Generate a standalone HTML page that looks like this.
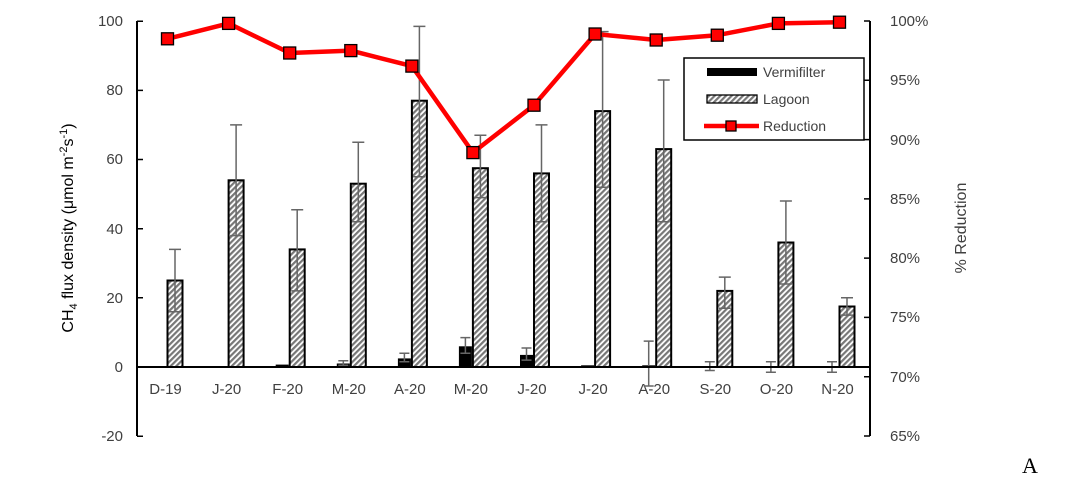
<!DOCTYPE html>
<html><head><meta charset="utf-8"><style>
html,body{margin:0;padding:0;background:#fff;}
svg{display:block;font-family:"Liberation Sans",sans-serif;}
.e{stroke:#666;stroke-width:1.5;fill:none}
.lg{fill:url(#h);stroke:#000;stroke-width:2}
.t{font-size:15px;fill:#404040}
</style></head><body>
<svg width="1080" height="495" viewBox="0 0 1080 495" xmlns="http://www.w3.org/2000/svg">
<defs>
<pattern id="h" patternUnits="userSpaceOnUse" width="4" height="4" patternTransform="rotate(45)">
<rect width="4" height="4" fill="#fff"/><rect width="2.2" height="4" fill="#777"/>
</pattern>
</defs>

<g transform="translate(167.5,0)">
<rect x="-14" y="366" width="13" height="1" fill="#000"/>
<rect class="lg" x="0" y="280.5" width="15" height="86.5"/>
<path class="e" d="M7.5 249.4V311.7M1.5 249.4H13.5M1.5 311.7H13.5"/>
<text class="t" x="-2" y="394" text-anchor="middle">D-19</text></g>
<g transform="translate(228.6,0)">
<rect x="-14" y="366.3" width="13" height="0.7" fill="#000"/>
<rect class="lg" x="0" y="180.3" width="15" height="186.7"/>
<path class="e" d="M7.5 124.9V235.6M1.5 124.9H13.5M1.5 235.6H13.5"/>
<text class="t" x="-2" y="394" text-anchor="middle">J-20</text></g>
<g transform="translate(289.7,0)">
<rect x="-14" y="364.6" width="13" height="2.4" fill="#000"/>
<rect class="lg" x="0" y="249.4" width="15" height="117.6"/>
<path class="e" d="M7.5 209.7V290.9M1.5 209.7H13.5M1.5 290.9H13.5"/>
<text class="t" x="-2" y="394" text-anchor="middle">F-20</text></g>
<g transform="translate(350.8,0)">
<rect x="-14" y="363.5" width="13" height="3.5" fill="#000"/>
<path class="e" d="M-7.5 360.8V365.3M-12.5 360.8H-2.5M-12.5 365.3H-2.5"/>
<rect class="lg" x="0" y="183.7" width="15" height="183.3"/>
<path class="e" d="M7.5 142.2V221.8M1.5 142.2H13.5M1.5 221.8H13.5"/>
<text class="t" x="-2" y="394" text-anchor="middle">M-20</text></g>
<g transform="translate(411.9,0)">
<rect x="-14" y="358.4" width="13" height="8.6" fill="#000"/>
<path class="e" d="M-7.5 353.2V361.8M-12.5 353.2H-2.5M-12.5 361.8H-2.5"/>
<rect class="lg" x="0" y="100.7" width="15" height="266.3"/>
<path class="e" d="M7.5 26.4V176.8M1.5 26.4H13.5M1.5 176.8H13.5"/>
<text class="t" x="-2" y="394" text-anchor="middle">A-20</text></g>
<g transform="translate(472.9,0)">
<rect x="-14" y="346.3" width="13" height="20.7" fill="#000"/>
<path class="e" d="M-7.5 337.6V353.2M-12.5 337.6H-2.5M-12.5 353.2H-2.5"/>
<rect class="lg" x="0" y="168.2" width="15" height="198.8"/>
<path class="e" d="M7.5 135.3V197.6M1.5 135.3H13.5M1.5 197.6H13.5"/>
<text class="t" x="-2" y="394" text-anchor="middle">M-20</text></g>
<g transform="translate(534,0)">
<rect x="-14" y="354.9" width="13" height="12.1" fill="#000"/>
<path class="e" d="M-7.5 348V360.1M-12.5 348H-2.5M-12.5 360.1H-2.5"/>
<rect class="lg" x="0" y="173.4" width="15" height="193.6"/>
<path class="e" d="M7.5 124.9V221.8M1.5 124.9H13.5M1.5 221.8H13.5"/>
<text class="t" x="-2" y="394" text-anchor="middle">J-20</text></g>
<g transform="translate(595.1,0)">
<rect x="-14" y="365.3" width="13" height="1.7" fill="#000"/>
<rect class="lg" x="0" y="111.1" width="15" height="255.9"/>
<path class="e" d="M7.5 31.6V187.2M1.5 31.6H13.5M1.5 187.2H13.5"/>
<text class="t" x="-2" y="394" text-anchor="middle">J-20</text></g>
<g transform="translate(656.2,0)">
<rect x="-14" y="365.3" width="13" height="1.7" fill="#000"/>
<rect class="lg" x="0" y="149.1" width="15" height="217.9"/>
<path class="e" d="M7.5 80V221.8M1.5 80H13.5M1.5 221.8H13.5"/>
<text class="t" x="-2" y="394" text-anchor="middle">A-20</text>
<path class="e" d="M-7.5 341.1V386M-12.5 341.1H-2.5M-12.5 386H-2.5"/></g>
<g transform="translate(717.3,0)">
<path class="e" d="M-7.5 361.8V370.5M-12.5 361.8H-2.5M-12.5 370.5H-2.5"/>
<rect class="lg" x="0" y="290.9" width="15" height="76.1"/>
<path class="e" d="M7.5 277.1V308.2M1.5 277.1H13.5M1.5 308.2H13.5"/>
<text class="t" x="-2" y="394" text-anchor="middle">S-20</text></g>
<g transform="translate(778.4,0)">
<path class="e" d="M-7.5 361.8V372.2M-12.5 361.8H-2.5M-12.5 372.2H-2.5"/>
<rect class="lg" x="0" y="242.5" width="15" height="124.5"/>
<path class="e" d="M7.5 201V284M1.5 201H13.5M1.5 284H13.5"/>
<text class="t" x="-2" y="394" text-anchor="middle">O-20</text></g>
<g transform="translate(839.5,0)">
<path class="e" d="M-7.5 361.8V372.2M-12.5 361.8H-2.5M-12.5 372.2H-2.5"/>
<rect class="lg" x="0" y="306.5" width="15" height="60.5"/>
<path class="e" d="M7.5 297.8V315.1M1.5 297.8H13.5M1.5 315.1H13.5"/>
<text class="t" x="-2" y="394" text-anchor="middle">N-20</text></g>

<line x1="137" y1="367" x2="870" y2="367" stroke="#000" stroke-width="2"/>
<line x1="137" y1="21" x2="137" y2="436" stroke="#000" stroke-width="2"/>
<path d="M137 21.2H143M137 90.4H143M137 159.5H143M137 228.7H143M137 297.8H143M137 436.2H143" stroke="#000" stroke-width="1.5"/>
<g class="t" text-anchor="end">
<text x="123" y="26">100</text><text x="123" y="95">80</text><text x="123" y="164">60</text>
<text x="123" y="234">40</text><text x="123" y="303">20</text><text x="123" y="372">0</text><text x="123" y="441">-20</text>
</g>
<line x1="870" y1="21" x2="870" y2="436" stroke="#000" stroke-width="2"/>
<path d="M864 21H870M864 80.3H870M864 139.6H870M864 198.9H870M864 258.1H870M864 317.4H870M864 376.7H870M864 436H870" stroke="#000" stroke-width="1.5"/>
<g class="t">
<text x="890" y="26">100%</text><text x="890" y="85">95%</text><text x="890" y="145">90%</text>
<text x="890" y="204">85%</text><text x="890" y="263">80%</text><text x="890" y="322">75%</text>
<text x="890" y="382">70%</text><text x="890" y="441">65%</text>
</g>

<polyline points="167.5,38.8 228.6,23.4 289.7,53 350.8,50.6 411.9,66.1 472.9,152.6 534,105.2 595.1,34 656.2,40 717.3,35.2 778.4,23.4 839.5,22.2" fill="none" stroke="#f00" stroke-width="4.5" stroke-linejoin="round"/>
<g fill="#f00" stroke="#000" stroke-width="1.3">
<rect x="161.5" y="32.8" width="12" height="12"/><rect x="222.6" y="17.4" width="12" height="12"/>
<rect x="283.7" y="47" width="12" height="12"/><rect x="344.8" y="44.6" width="12" height="12"/>
<rect x="405.9" y="60.1" width="12" height="12"/><rect x="466.9" y="146.6" width="12" height="12"/>
<rect x="528" y="99.2" width="12" height="12"/><rect x="589.1" y="28" width="12" height="12"/>
<rect x="650.2" y="34" width="12" height="12"/><rect x="711.3" y="29.2" width="12" height="12"/>
<rect x="772.4" y="17.4" width="12" height="12"/><rect x="833.5" y="16.2" width="12" height="12"/>
</g>

<rect x="684" y="58" width="180" height="82" fill="#fff" stroke="#000" stroke-width="1.5"/>
<rect x="707" y="68" width="50" height="8" fill="#000"/>
<text x="763" y="77" font-size="14" fill="#404040">Vermifilter</text>
<rect x="707" y="95" width="50" height="8" fill="url(#h)" stroke="#000" stroke-width="1.3"/>
<text x="763" y="104" font-size="14" fill="#404040">Lagoon</text>
<line x1="704" x2="759" y1="126" y2="126" stroke="#f00" stroke-width="4.5"/>
<rect x="726" y="121" width="10" height="10" fill="#f00" stroke="#000" stroke-width="1.3"/>
<text x="763" y="131" font-size="14" fill="#404040">Reduction</text>

<text transform="translate(73,228) rotate(-90)" font-size="16" fill="#000" text-anchor="middle">CH<tspan font-size="11" dy="4">4</tspan><tspan dy="-4"> flux density (μmol m</tspan><tspan font-size="11" dy="-6">-2</tspan><tspan dy="6">s</tspan><tspan font-size="11" dy="-6">-1</tspan><tspan dy="6">)</tspan></text>
<text transform="translate(966,228) rotate(-90)" font-size="16" fill="#404040" text-anchor="middle">% Reduction</text>
<text x="1022" y="473" font-size="22" fill="#000" font-family="Liberation Serif,serif">A</text>
</svg>
</body></html>
